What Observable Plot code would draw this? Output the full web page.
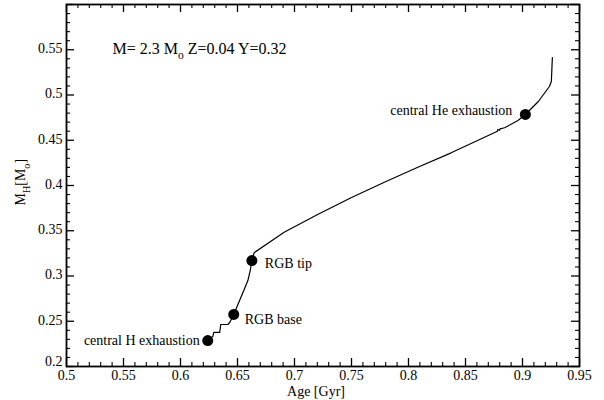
<!DOCTYPE html>
<html><head><meta charset="utf-8">
<script src="https://cdn.jsdelivr.net/npm/d3@7"></script>
<script src="https://cdn.jsdelivr.net/npm/@observablehq/plot@0.6"></script>
<style>body{margin:0;background:#fff}</style>
</head><body><div id="chart"></div>
<script>
// Evolutionary track: helium-core mass vs age
const age = [0.6239, 0.6283, 0.6292, 0.6344, 0.6353, 0.6415, 0.6432, 0.6467, 0.6511, 0.6555, 0.6591, 0.6612, 0.6626, 0.6646, 0.6909, 0.7203, 0.7496, 0.7788, 0.8082, 0.8374, 0.8667, 0.8780, 0.8783, 0.8800, 0.8803, 0.8843, 0.8960, 0.9025, 0.9139, 0.9236, 0.9253, 0.9262];
const mH  = [0.2287, 0.2331, 0.2376, 0.2376, 0.2464, 0.2464, 0.2486, 0.2575, 0.2707, 0.2840, 0.2950, 0.3061, 0.3171, 0.3257, 0.3484, 0.3680, 0.3864, 0.4036, 0.4202, 0.4361, 0.4534, 0.4600, 0.4618, 0.4610, 0.4626, 0.4638, 0.4718, 0.4785, 0.4928, 0.5094, 0.5149, 0.5414];

const eventAge   = [0.6239, 0.6467, 0.6626, 0.9025];
const eventMH    = [0.2287, 0.2575, 0.3171, 0.4785];
const eventLabel = ["central H exhaustion", "RGB base", "RGB tip", "central He exhaustion"];

const xTickLabels = ["0.5", "0.55", "0.6", "0.65", "0.7", "0.75", "0.8", "0.85", "0.9", "0.95"];
const yTickLabels = ["0.2", "0.25", "0.3", "0.35", "0.4", "0.45", "0.5", "0.55"];
const titleText = "M= 2.3 M_{o} Z=0.04 Y=0.32";
const xLabel = "Age [Gyr]";
const yLabel = "M_{H}[M_{o}]";

const xMajor = xTickLabels.map(Number);
const yLabelVals = yTickLabels.map(Number);
const yMajor = [...yLabelVals, 0.6];
const xMinor = d3.range(50, 96).map(d => d / 100).filter(v => !xMajor.some(m => Math.abs(m - v) < 1e-9));
const yMinor = d3.range(20, 61).map(d => d / 100).filter(v => !yMajor.some(m => Math.abs(m - v) < 1e-9));

const track = age.map((a, i) => ({age: a, mH: mH[i]}));
const events = eventAge.map((a, i) => ({age: a, mH: eventMH[i], label: eventLabel[i]}));

const W = 604, H = 400, mL = 66, mR = 25, mT = 4, mB = 34;
const pw = W - mL - mR, ph = H - mT - mB;
const maj = 8, mnr = 4;
const yFmt = d => yTickLabels[yLabelVals.findIndex(m => Math.abs(m - d) < 1e-9)];

const chart = Plot.plot({
  width: W, height: H,
  marginLeft: mL, marginRight: mR, marginTop: mT, marginBottom: mB,
  style: {fontFamily: "'Liberation Serif', 'Times New Roman', serif", fontSize: "14px", background: "white", color: "black"},
  x: {domain: [0.5, 0.95]},
  y: {domain: [0.2, 0.6]},
  marks: [
    // ticks (inward, all four sides)
    Plot.tickX(xMajor, {x: d => d, insetTop: ph - maj, strokeWidth: 1.3}),
    Plot.tickX(xMajor, {x: d => d, insetBottom: ph - maj, strokeWidth: 1.3}),
    Plot.tickX(xMinor, {x: d => d, insetTop: ph - mnr, strokeWidth: 1.1}),
    Plot.tickX(xMinor, {x: d => d, insetBottom: ph - mnr, strokeWidth: 1.1}),
    Plot.tickY(yMajor, {y: d => d, insetRight: pw - maj, strokeWidth: 1.3}),
    Plot.tickY(yMajor, {y: d => d, insetLeft: pw - maj, strokeWidth: 1.3}),
    Plot.tickY(yMinor, {y: d => d, insetRight: pw - mnr, strokeWidth: 1.1}),
    Plot.tickY(yMinor, {y: d => d, insetLeft: pw - mnr, strokeWidth: 1.1}),
    Plot.axisX({ticks: xMajor, tickSize: 0, tickPadding: 4, fontSize: 14,
      tickFormat: d => xTickLabels[xMajor.findIndex(m => Math.abs(m - d) < 1e-9)], label: null}),
    Plot.axisY({ticks: yLabelVals.slice(1), tickSize: 0, tickPadding: 4, fontSize: 14, dy: -1,
      tickFormat: yFmt, label: null}),
    Plot.axisY({ticks: yLabelVals.slice(0, 1), tickSize: 0, tickPadding: 4, fontSize: 14, dy: -5,
      tickFormat: yFmt, label: null}),
    Plot.frame({stroke: "black", strokeWidth: 1.8}),
    Plot.line(track, {x: "age", y: "mH", stroke: "black", strokeWidth: 1.2}),
    Plot.dot(events, {x: "age", y: "mH", r: 5.5, fill: "black"}),
    Plot.text([events[0]], {x: "age", y: "mH", text: "label", textAnchor: "end", dx: -8, dy: 0, fontSize: 14, fill: "black"}),
    Plot.text([events[1]], {x: "age", y: "mH", text: "label", textAnchor: "start", dx: 11, dy: 5, fontSize: 14, fill: "black"}),
    Plot.text([events[2]], {x: "age", y: "mH", text: "label", textAnchor: "start", dx: 13, dy: 3, fontSize: 14, fill: "black"}),
    Plot.text([events[3]], {x: "age", y: "mH", text: "label", textAnchor: "end", dx: -13, dy: -4, fontSize: 14, fill: "black"}),
    Plot.text([titleText], {text: d => d, frameAnchor: "top-left", dx: 46, dy: 38, textAnchor: "start", fontSize: 16, fill: "black"}),
    Plot.text([xLabel], {text: d => d, frameAnchor: "bottom", dx: -7, dy: 29, fontSize: 14, fill: "black"}),
    Plot.text([yLabel], {text: d => d, frameAnchor: "left", dx: -46, dy: 20, rotate: -90, fontSize: 14, fill: "black"})
  ]
});

document.getElementById("chart").appendChild(chart);

// Turn _{...} markers into real subscripts
chart.querySelectorAll("text").forEach(t => {
  const s = t.textContent;
  if (!s.includes("_{")) return;
  const fs = parseFloat(getComputedStyle(t).fontSize) || 14;
  const parts = s.split(/(_\{[^}]*\})/).filter(p => p.length);
  t.textContent = "";
  let shifted = false;
  const sh = fs * 0.35;
  for (const p of parts) {
    const sp = document.createElementNS("http://www.w3.org/2000/svg", "tspan");
    if (p.startsWith("_{")) {
      sp.textContent = p.slice(2, -1);
      sp.setAttribute("font-size", (fs * 0.72).toFixed(1));
      sp.setAttribute("dy", sh.toFixed(1));
      shifted = true;
    } else {
      sp.textContent = p;
      if (shifted) sp.setAttribute("dy", (-sh).toFixed(1));
      shifted = false;
    }
    t.appendChild(sp);
  }
});
</script>
</body></html>
